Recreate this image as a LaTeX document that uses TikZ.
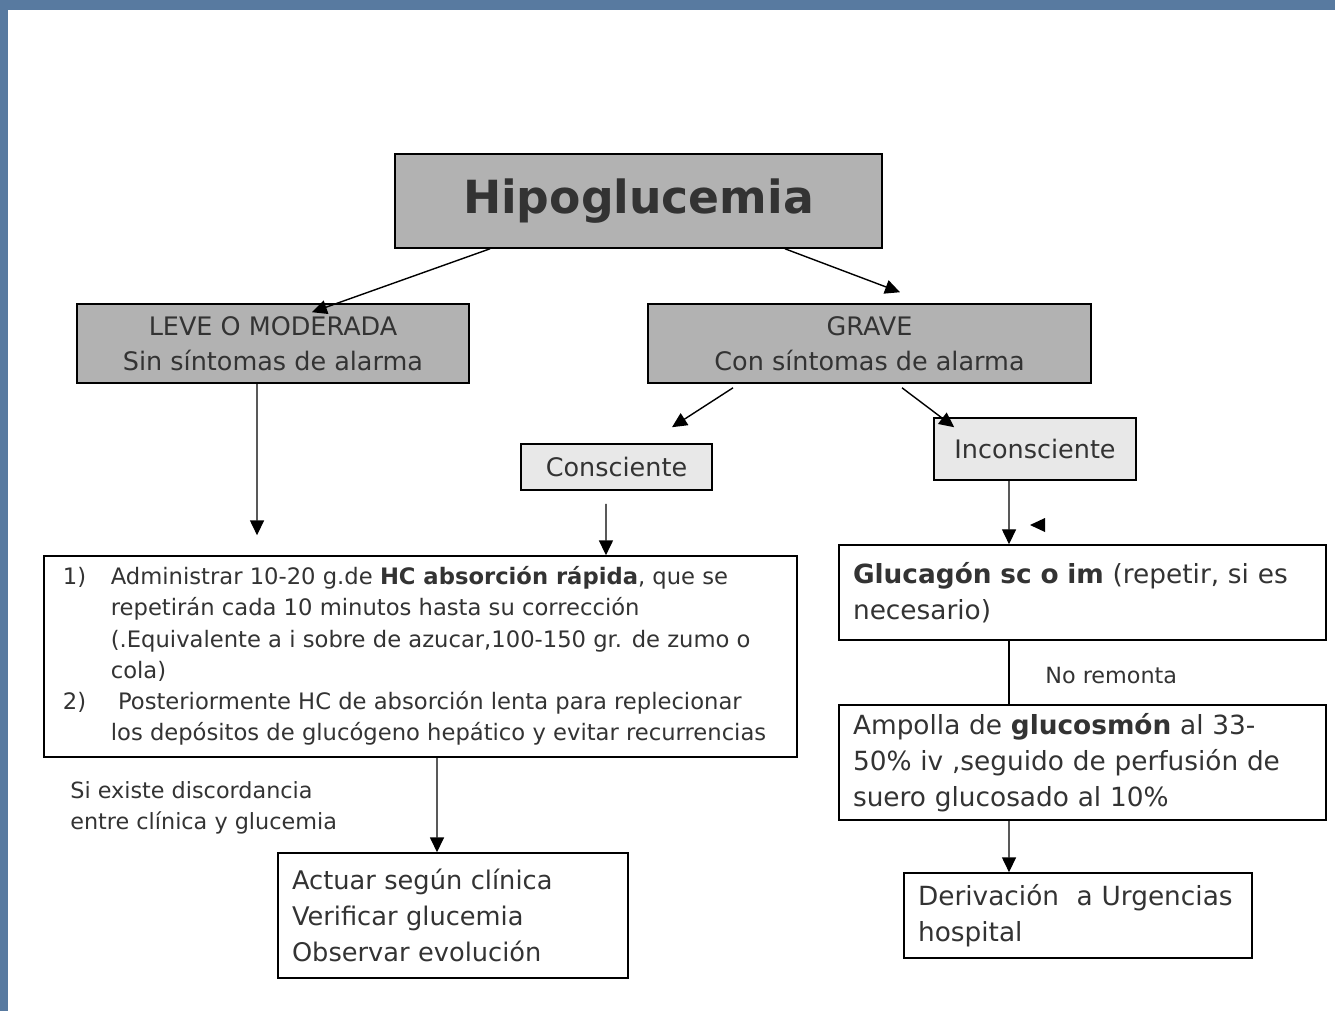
\documentclass[tikz,border=0pt]{standalone}
\usepackage{fontspec}
\setmainfont{DejaVu Sans}
\usetikzlibrary{arrows.meta, positioning}
\definecolor{frameblue}{RGB}{88,122,160}
\definecolor{boxdark}{RGB}{178,178,178}
\definecolor{boxlight}{RGB}{232,232,232}
\definecolor{txt}{RGB}{51,51,51}

\begin{document}
\begin{tikzpicture}[
    x=0.02cm, y=-0.02cm,
    >={Triangle[length=8.5pt, width=8pt]},
    box/.style={draw, line width=0.9pt, text=txt, inner sep=0pt},
    head/.style={box, fill=boxdark, align=center, font=\fontsize{14.5}{20}\selectfont},
    sub/.style={box, fill=boxlight, align=center, font=\fontsize{14.5}{18}\selectfont},
    note/.style={box, align=left, inner xsep=0.28cm, font=\fontsize{15}{20.4}\selectfont},
    lbl/.style={text=txt, inner sep=0pt, align=left},
    arrow/.style={->, line width=0.8pt},
    link/.style={line width=0.8pt},
]

% marco
\useasboundingbox (0,0) rectangle (1335,1011);
\fill[frameblue] (0,0) rectangle (1335,1011);
\fill[white] (8,10) rectangle (1335,1011);

% cabecera
\node[head, minimum width=9.74cm, minimum height=1.88cm,
      font=\fontsize{26}{30}\selectfont\bfseries] (hipo) at (638.5,201) {Hipoglucemia};

% gravedad
\node[head, minimum width=7.84cm, minimum height=1.58cm] (leve) at (273,343.5)
    {LEVE O MODERADA\\Sin síntomas de alarma};
\node[head, minimum width=8.86cm, minimum height=1.58cm] (grave) at (869.5,343.5)
    {GRAVE\\Con síntomas de alarma};

% estado de conciencia
\node[sub, minimum width=3.82cm, minimum height=0.92cm] (consc) at (616.5,467) {Consciente};
\node[sub, minimum width=4.04cm, minimum height=1.24cm] (incons) at (1035,449) {Inconsciente};

% tratamiento oral
\node[box, minimum width=15.06cm, minimum height=4.02cm,
      font=\fontsize{12.9}{17.8}\selectfont] (trat) at (420.5,656.5)
    {\begin{tabular}{@{}p{0.96cm}@{}l@{\hspace{0.24cm}}}
     1) & Administrar 10-20 g.de \textbf{HC absorción rápida}, que se\\
        & repetirán cada 10 minutos hasta su corrección\\
        & (.Equivalente a i sobre de azucar,100-150 gr. de zumo o\\
        & cola)\\
     2) & \ Posteriormente HC de absorción lenta para replecionar\\
        & los depósitos de glucógeno hepático y evitar recurrencias
     \end{tabular}};

% tratamiento parenteral
\node[note, text width=9.18cm, minimum height=1.9cm] (gluca) at (1082.5,592.5)
    {\textbf{Glucagón sc o im} (repetir, si es\\necesario)};
\node[note, text width=9.18cm, minimum height=2.3cm] (ampolla) at (1082.5,762.5)
    {Ampolla de \textbf{glucosmón} al 33-\\50\% iv ,seguido de perfusión de\\suero glucosado al 10\%};

% final
\node[note, text width=6.44cm, minimum height=2.5cm, font=\fontsize{14.6}{20.4}\selectfont]
    (actuar) at (453,915.5) {Actuar según clínica\\Verificar glucemia\\Observar evolución};
\node[note, text width=6.4cm, minimum height=1.7cm] (deriv) at (1078,915.5)
    {Derivación\ \ a Urgencias\\hospital};

% textos sueltos
\node[lbl, anchor=west, font=\fontsize{12.7}{16}\selectfont] (remonta) at (1045,676) {No remonta};
\node[lbl, anchor=north west, font=\fontsize{12.7}{17.6}\selectfont] (discord) at (70,781)
    {Si existe discordancia\\entre clínica y glucemia};

% flechas
\draw[arrow] ([xshift=-2.97cm]hipo.south) -- ([xshift=0.78cm, yshift=-0.18cm]leve.north);
\draw[arrow] ([xshift=2.93cm]hipo.south) -- ([xshift=0.61cm, yshift=0.22cm]grave.north);
\draw[arrow] ([xshift=-0.32cm]leve.south) -- ([xshift=-3.27cm, yshift=0.4cm]trat.north);
\draw[arrow] ([xshift=-2.73cm, yshift=-0.08cm]grave.south) -- ([xshift=1.11cm, yshift=0.32cm]consc.north);
\draw[arrow] ([xshift=0.65cm, yshift=-0.08cm]grave.south) -- ([xshift=0.42cm, yshift=-0.2cm]incons.north west);
\draw[arrow] ([xshift=-0.21cm, yshift=-0.26cm]consc.south) -- ([xshift=3.71cm]trat.north);
\draw[arrow] ([xshift=-0.52cm]incons.south) -- ([xshift=-1.47cm]gluca.north);
\draw[link] ([xshift=-1.47cm]gluca.south) -- ([xshift=-1.47cm]ampolla.north);
\draw[arrow] ([xshift=0.33cm]trat.south) -- ([xshift=-0.32cm]actuar.north);
\draw[arrow] ([xshift=-1.47cm]ampolla.south) -- ([xshift=-1.38cm]deriv.north);

% punta suelta
\fill (1030,525) -- (1045,518) -- (1045,532) -- cycle;

\end{tikzpicture}
\end{document}
